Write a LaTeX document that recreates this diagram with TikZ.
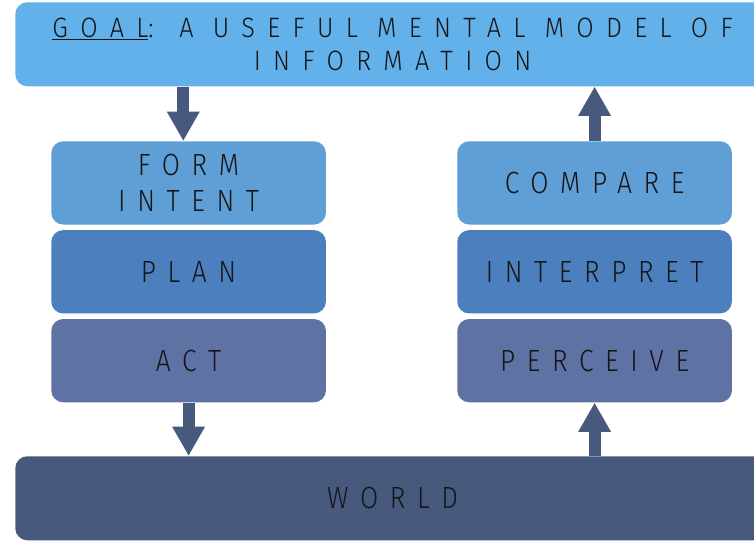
\documentclass[tikz,border=0pt]{standalone}
\usepackage{fontspec}
\newfontfamily\stagefont{Fira Sans}[UprightFont=* Light, FakeStretch=0.86, LetterSpace=38]
\newfontfamily\goalfont{Fira Sans}[UprightFont=* Light, FakeStretch=0.9, LetterSpace=44]
\usepackage{xcolor}
\usepackage{tikz}
\usetikzlibrary{positioning, arrows.meta}
\definecolor{goalblue}{HTML}{63B1EA}
\definecolor{intentblue}{HTML}{5F9FD5}
\definecolor{planblue}{HTML}{4B7FBD}
\definecolor{actblue}{HTML}{5E72A4}
\definecolor{worldblue}{HTML}{475A7E}
\definecolor{inkblack}{HTML}{151515}
\tikzset{
    stage/.style = {
        rounded corners = 9pt,
        minimum width   = 206pt,
        minimum height  = 62.5pt,
        inner sep       = 0pt,
        align           = center,
        text            = inkblack,
        font            = \stagefont\fontsize{23}{27}\selectfont,
    },
    flow/.style = {
        draw       = worldblue,
        line width = 9pt,
        -{Triangle[width=23pt, length=22pt]},
    },
}

\begin{document}
\begin{tikzpicture}[x=0.75pt, y=-0.75pt]
        \useasboundingbox (0,0) rectangle (754,542);

        \node (goal) [stage, fill=goalblue, minimum width=566pt, minimum height=63pt, anchor=north west, font=\goalfont\fontsize{21}{25}\selectfont] at (15,2) {\underline{GOAL}: A USEFUL MENTAL MODEL OF\\INFORMATION};

        \node (intent) [stage, fill=intentblue, anchor=north west] at (51,141) {FORM\\INTENT};
        \node (plan) [stage, fill=planblue, below=3.75pt of intent] {PLAN};
        \node (act) [stage, fill=actblue, below=3.75pt of plan] {ACT};

        \node (compare) [stage, fill=intentblue, anchor=north west] at (457,141) {COMPARE};
        \node (interpret) [stage, fill=planblue, below=3.75pt of compare] {INTERPRET};
        \node (perceive) [stage, fill=actblue, below=3.75pt of interpret] {PERCEIVE};

        \node (world) [stage, fill=worldblue, minimum width=566pt, minimum height=63pt, anchor=north west] at (15,456) {WORLD};

        \draw [flow] ([xshift=-4pt]goal.south -| intent.north) -- ([xshift=-4pt]intent.north);
        \draw [flow] (compare.north) -- (goal.south -| compare.north);
        \draw [flow] (act.south) -- (world.north -| act.south);
        \draw [flow] (world.north -| perceive.south) -- (perceive.south);

    \end{tikzpicture}
\end{document}
